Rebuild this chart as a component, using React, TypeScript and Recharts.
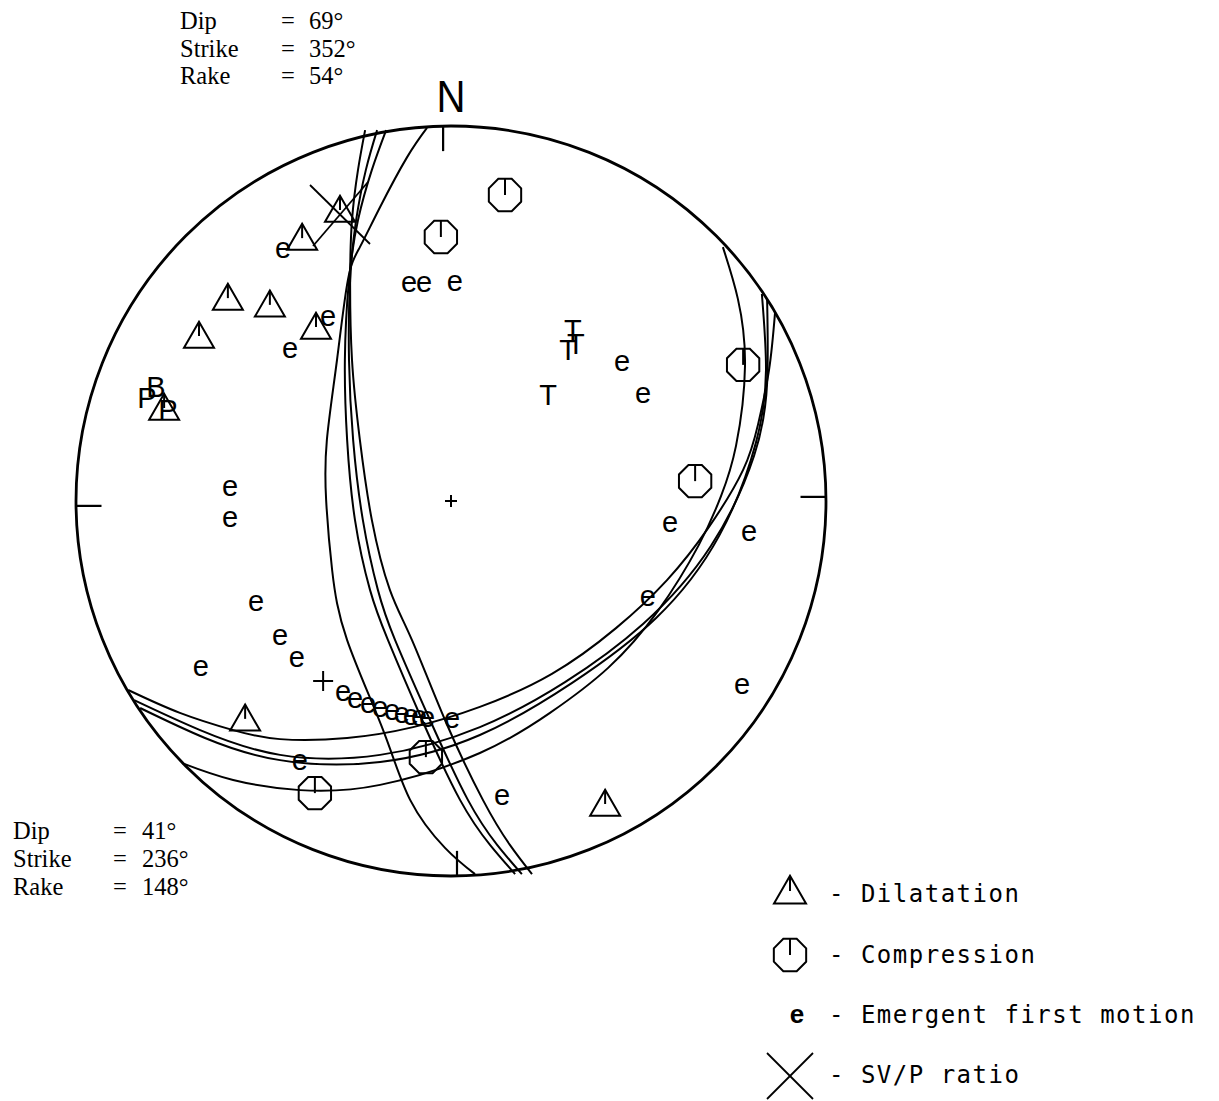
import React from 'react'
import { ComposedChart, Line, Scatter, XAxis, YAxis, ReferenceDot, ReferenceLine } from 'recharts'

type Pt = { x: number; y: number }

// stereonet coordinates, primitive circle radius = 100
const compression: Pt[] = [
  { x: 14.4, y: 81.6 }, { x: -2.7, y: 70.4 }, { x: 77.9, y: 36.3 },
  { x: 65.1, y: 5.3 }, { x: -6.7, y: -68.3 }, { x: -36.3, y: -77.9 },
]
const dilatation: Pt[] = [
  { x: -29.6, y: 77.6 }, { x: -39.7, y: 70.1 }, { x: -59.5, y: 54.1 }, { x: -48.3, y: 52.3 },
  { x: -67.2, y: 44.0 }, { x: -36.0, y: 46.4 }, { x: -76.5, y: 24.8 }, { x: -54.9, y: -58.1 },
  { x: 41.1, y: -80.8 },
]
const emergent: Pt[] = [
  { x: -44.8, y: 66.9 }, { x: -11.2, y: 57.9 }, { x: -7.2, y: 57.9 }, { x: 1.0, y: 58.1 },
  { x: -32.8, y: 48.8 }, { x: -42.9, y: 40.3 }, { x: 45.6, y: 36.8 }, { x: 51.2, y: 28.3 },
  { x: -58.9, y: 3.5 }, { x: -58.9, y: -4.8 }, { x: 58.4, y: -6.1 }, { x: 79.5, y: -8.5 },
  { x: 52.5, y: -25.9 }, { x: -52.0, y: -27.2 }, { x: -45.6, y: -36.3 }, { x: -41.1, y: -42.1 },
  { x: -66.7, y: -44.5 }, { x: 77.6, y: -49.3 }, { x: -28.8, y: -51.2 }, { x: -25.6, y: -53.1 },
  { x: -22.1, y: -54.4 }, { x: -18.9, y: -55.5 }, { x: -15.7, y: -56.3 }, { x: -13.1, y: -57.1 },
  { x: -10.7, y: -57.6 }, { x: -8.5, y: -57.9 }, { x: -6.4, y: -58.1 }, { x: 0.3, y: -58.4 },
  { x: -40.3, y: -69.6 }, { x: 13.6, y: -78.9 },
]
const tAxes: Pt[] = [{ x: 32.5, y: 45.6 }, { x: 33.3, y: 42.1 }, { x: 31.2, y: 40.3 }, { x: 25.9, y: 28.5 }]
const pAxes: Pt[] = [{ x: -81.1, y: 27.7 }, { x: -75.5, y: 24.3 }]
const bAxes: Pt[] = [{ x: -78.7, y: 30.4 }]
const svpRatio: Pt[] = [{ x: -29.6, y: 77.6 }]
const centreMark: Pt[] = [{ x: 0, y: 0 }]
const slipPole: Pt[] = [{ x: -34.1, y: -48.0 }]

// nodal plane 1 solutions (dip 69, strike 352)
const plane1: Pt[][] = [
  [{ x: -6.4, y: 99.5 }, { x: -11.7, y: 91.7 }, { x: -18.9, y: 78.4 }, { x: -24.3, y: 67.7 }, { x: -27.5, y: 58.9 },
   { x: -30.4, y: 37.6 }, { x: -33.1, y: 16.3 }, { x: -33.3, y: 0.3 }, { x: -31.7, y: -18.4 }, { x: -27.7, y: -37.1 },
   { x: -18.1, y: -61.1 }, { x: -10.9, y: -79.7 }, { x: -1.6, y: -92.5 }, { x: 6.4, y: -99.5 }],
  [{ x: -22.9, y: 98.9 }, { x: -24.8, y: 88.3 }, { x: -26.4, y: 74.9 }, { x: -26.9, y: 58.9 }, { x: -26.4, y: 37.6 },
   { x: -24.3, y: 16.3 }, { x: -21.1, y: -5.1 }, { x: -16.3, y: -23.7 }, { x: -10.4, y: -37.1 }, { x: -1.6, y: -58.4 },
   { x: 8.5, y: -79.7 }, { x: 15.7, y: -91.7 }, { x: 21.6, y: -99.5 }],
  [{ x: -19.7, y: 98.9 }, { x: -22.7, y: 88.3 }, { x: -25.3, y: 74.9 }, { x: -26.9, y: 58.9 }, { x: -27.2, y: 37.6 },
   { x: -26.1, y: 16.3 }, { x: -23.5, y: -5.1 }, { x: -19.5, y: -23.7 }, { x: -14.9, y: -37.1 }, { x: -5.6, y: -58.4 },
   { x: 4.5, y: -79.7 }, { x: 12.3, y: -91.7 }, { x: 18.9, y: -99.5 }],
  [{ x: -17.3, y: 98.9 }, { x: -21.1, y: 88.3 }, { x: -24.8, y: 74.9 }, { x: -27.2, y: 58.9 }, { x: -28.3, y: 37.6 },
   { x: -27.7, y: 16.3 }, { x: -25.6, y: -5.1 }, { x: -21.6, y: -23.7 }, { x: -16.8, y: -37.1 }, { x: -7.7, y: -58.4 },
   { x: 2.4, y: -79.7 }, { x: 10.4, y: -91.7 }, { x: 17.1, y: -99.5 }],
]

// nodal plane 2 solutions (dip 41, strike 236)
const plane2: Pt[][] = [
  [{ x: -86.1, y: -50.4 }, { x: -72.3, y: -56.5 }, { x: -58.1, y: -61.1 }, { x: -45.6, y: -63.5 }, { x: -27.7, y: -63.2 },
   { x: -10.1, y: -60.3 }, { x: 7.7, y: -54.9 }, { x: 26.9, y: -46.1 }, { x: 44.0, y: -33.9 }, { x: 57.6, y: -21.1 },
   { x: 68.8, y: -6.9 }, { x: 77.9, y: 8.3 }, { x: 81.9, y: 20.5 }, { x: 84.8, y: 34.9 }, { x: 86.4, y: 50.1 }],
  [{ x: -84.5, y: -53.1 }, { x: -66.9, y: -61.1 }, { x: -45.6, y: -67.7 }, { x: -18.9, y: -67.7 }, { x: 7.7, y: -60.3 },
   { x: 30.4, y: -48.3 }, { x: 51.2, y: -32.8 }, { x: 69.3, y: -12.0 }, { x: 80.8, y: 12.0 }, { x: 84.3, y: 31.5 },
   { x: 84.3, y: 53.6 }],
  [{ x: -82.9, y: -55.2 }, { x: -65.6, y: -63.2 }, { x: -45.6, y: -69.1 }, { x: -18.9, y: -69.6 }, { x: 7.7, y: -62.4 },
   { x: 32.3, y: -48.5 }, { x: 54.7, y: -31.2 }, { x: 71.5, y: -9.3 }, { x: 81.3, y: 15.5 }, { x: 84.0, y: 34.9 },
   { x: 82.9, y: 55.2 }],
  [{ x: -71.7, y: -69.9 }, { x: -58.1, y: -74.4 }, { x: -40.3, y: -77.1 }, { x: -18.9, y: -75.7 }, { x: 7.7, y: -67.2 },
   { x: 26.4, y: -56.5 }, { x: 41.9, y: -44.5 }, { x: 55.2, y: -29.3 }, { x: 66.1, y: -11.7 }, { x: 72.0, y: 1.3 },
   { x: 76.0, y: 14.7 }, { x: 78.4, y: 36.0 }, { x: 76.5, y: 53.9 }, { x: 72.5, y: 67.7 }],
]

// N, E, S, W tick marks
const ticks: [Pt, Pt][] = [
  [{ x: -2.1, y: 100 }, { x: -2.1, y: 93.3 }],
  [{ x: 93.2, y: 1.1 }, { x: 100, y: 1.1 }],
  [{ x: 1.6, y: -93.3 }, { x: 1.6, y: -100 }],
  [{ x: -100, y: -1.3 }, { x: -93.2, y: -1.3 }],
]

const planeLabels = ['Dip', 'Strike', 'Rake']
const plane1Vals = ['69°', '352°', '54°']
const plane2Vals = ['41°', '236°', '148°']
const legendLabels = ['- Dilatation', '- Compression', '- Emergent first motion', '- SV/P ratio']

const W = 1219
const H = 1101
const PLOT = 750
const LEFT = 76
const TOP = 126
const SANS = "'Liberation Sans', Arial, sans-serif"
const SERIF = "'Liberation Serif', 'Times New Roman', serif"
const MONO = "'DejaVu Sans Mono', monospace"

function octagon(cx: number, cy: number, r: number) {
  const pts = Array.from({ length: 8 }, (_, i) => {
    const a = Math.PI / 8 + (i * Math.PI) / 4
    return `${cx + r * Math.cos(a)},${cy + r * Math.sin(a)}`
  }).join(' ')
  return (
    <g>
      <polygon points={pts} fill="none" stroke="#000" strokeWidth={2} />
      <line x1={cx} y1={cy} x2={cx} y2={cy - r * Math.cos(Math.PI / 8)} stroke="#000" strokeWidth={2} />
    </g>
  )
}

function triangle(cx: number, cy: number, w: number) {
  const h = w * 0.87
  return (
    <g>
      <polygon points={`${cx},${cy - h * 0.55} ${cx + w / 2},${cy + h * 0.45} ${cx - w / 2},${cy + h * 0.45}`}
        fill="none" stroke="#000" strokeWidth={2} />
      <line x1={cx} y1={cy - h * 0.55} x2={cx} y2={cy} stroke="#000" strokeWidth={2} />
    </g>
  )
}

function cross(cx: number, cy: number, s: number) {
  return (
    <g stroke="#000" strokeWidth={1.8}>
      <line x1={cx - s} y1={cy - s} x2={cx + s} y2={cy + s} />
      <line x1={cx + s} y1={cy - s} x2={cx - s} y2={cy + s} />
    </g>
  )
}

const glyph = (ch: string, size: number, shift: number) => (p: any) => (
  <text x={p.cx} y={p.cy + size * shift} fontSize={size} fontFamily={SANS} textAnchor="middle" fill="#000">{ch}</text>
)

const plus = (s: number) => (p: any) => (
  <g stroke="#000" strokeWidth={2}>
    <line x1={p.cx - s} y1={p.cy} x2={p.cx + s} y2={p.cy} />
    <line x1={p.cx} y1={p.cy - s} x2={p.cx} y2={p.cy + s} />
  </g>
)

const svpShape = (p: any) => (
  <g stroke="#000" strokeWidth={1.8}>
    <line x1={p.cx - 30} y1={p.cy - 25} x2={p.cx + 30} y2={p.cy + 34} />
    <line x1={p.cx + 28} y1={p.cy - 28} x2={p.cx - 27} y2={p.cy + 36} />
  </g>
)

export default function App() {
  return (
    <div style={{ position: 'absolute', left: 0, top: 0, width: W, height: H, background: '#fff' }}>
      <ComposedChart width={W} height={H}
        margin={{ top: TOP, left: LEFT, right: W - LEFT - PLOT, bottom: H - TOP - PLOT }}>
        <XAxis type="number" dataKey="x" domain={[-100, 100]} hide allowDataOverflow />
        <YAxis type="number" dataKey="y" domain={[-100, 100]} hide allowDataOverflow />
        <ReferenceDot x={0} y={0} r={PLOT / 2} fill="none" stroke="#000" strokeWidth={2.8} />
        {ticks.map((t, i) => (
          <ReferenceLine key={'t' + i} segment={t} stroke="#000" strokeWidth={2.2} />
        ))}
        {plane1.map((d, i) => (
          <Line key={'a' + i} data={d} dataKey="y" type="natural" stroke="#000" strokeWidth={2}
            dot={false} activeDot={false} isAnimationActive={false} />
        ))}
        {plane2.map((d, i) => (
          <Line key={'b' + i} data={d} dataKey="y" type="natural" stroke="#000" strokeWidth={2}
            dot={false} activeDot={false} isAnimationActive={false} />
        ))}
        <Scatter data={compression} isAnimationActive={false} shape={(p: any) => octagon(p.cx, p.cy, 17.5)} />
        <Scatter data={dilatation} isAnimationActive={false} shape={(p: any) => triangle(p.cx, p.cy, 30)} />
        <Scatter data={emergent} isAnimationActive={false} shape={glyph('e', 29, 0.27)} />
        <Scatter data={tAxes} isAnimationActive={false} shape={glyph('T', 29, 0.36)} />
        <Scatter data={pAxes} isAnimationActive={false} shape={glyph('P', 29, 0.36)} />
        <Scatter data={bAxes} isAnimationActive={false} shape={glyph('B', 29, 0.36)} />
        <Scatter data={svpRatio} isAnimationActive={false} shape={svpShape} />
        <Scatter data={centreMark} isAnimationActive={false} shape={plus(6)} />
        <Scatter data={slipPole} isAnimationActive={false} shape={plus(10)} />
      </ComposedChart>

      <svg width={W} height={H} style={{ position: 'absolute', left: 0, top: 0, pointerEvents: 'none' }}>
        <text x={451} y={112} fontSize={44} fontFamily={SANS} textAnchor="middle" textLength={29}
          lengthAdjust="spacingAndGlyphs">N</text>
        <g fontFamily={SERIF} fontSize={24.5} fill="#000">
          {planeLabels.map((l, i) => (
            <g key={'p1' + i}>
              <text x={180} y={29 + i * 27.5}>{l}</text>
              <text x={281} y={29 + i * 27.5}>=</text>
              <text x={309} y={29 + i * 27.5}>{plane1Vals[i]}</text>
            </g>
          ))}
          {planeLabels.map((l, i) => (
            <g key={'p2' + i}>
              <text x={13} y={839 + i * 28}>{l}</text>
              <text x={113} y={839 + i * 28}>=</text>
              <text x={142} y={839 + i * 28}>{plane2Vals[i]}</text>
            </g>
          ))}
        </g>
        {triangle(790, 891, 32)}
        {octagon(790, 955, 17.5)}
        <text x={797} y={1023} fontSize={26} fontWeight="bold" fontFamily={SANS} textAnchor="middle">e</text>
        {cross(790, 1076, 23)}
        <g fontFamily={MONO} fontSize={24} letterSpacing={1.5} fill="#000">
          {legendLabels.map((l, i) => (
            <text key={l} x={829} y={[902, 963, 1023, 1083][i]}>{l}</text>
          ))}
        </g>
      </svg>
    </div>
  )
}
